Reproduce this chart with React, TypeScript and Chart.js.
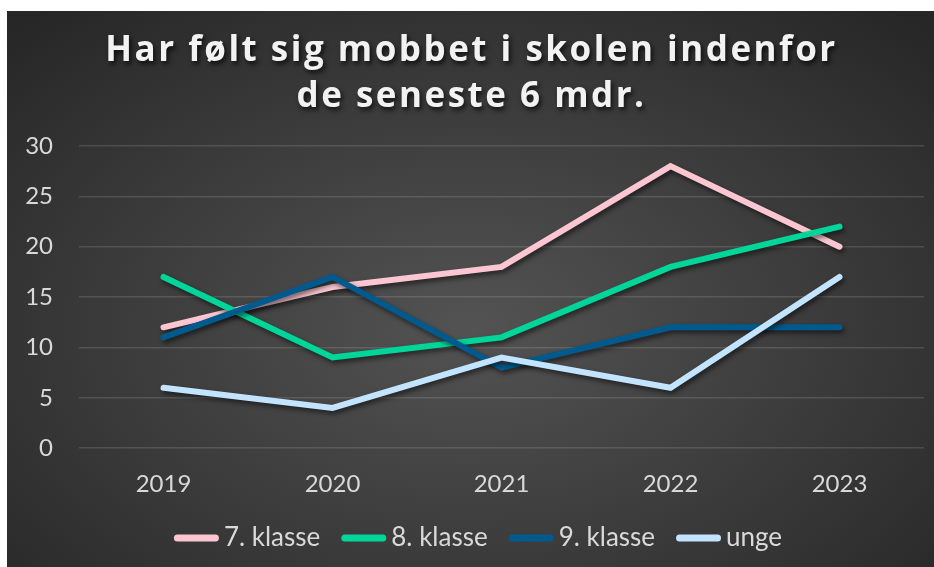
import { useEffect, useRef } from 'react';
import { Chart, registerables } from 'chart.js';

Chart.register(...registerables);

const years = ['2019', '2020', '2021', '2022', '2023'];
const klasse7 = [12, 16, 18, 28, 20];
const klasse8 = [17, 9, 11, 18, 22];
const klasse9 = [11, 17, 8, 12, 12];
const unge = [6, 4, 9, 6, 17];
const seriesNames = ['7. klasse', '8. klasse', '9. klasse', 'unge'];
const titleLines = ['Har følt sig mobbet i skolen indenfor', 'de seneste 6 mdr.'];

const colors = ['#FBC6D2', '#00D699', '#005A8E', '#C2E4FF'];
const FONT = 'Lato, "Open Sans", sans-serif';

const titlePlugin = {
  id: 'customTitle',
  afterDraw(chart: any) {
    const ctx = chart.ctx;
    ctx.save();
    ctx.font = `bold 35px "Open Sans", sans-serif`;
    try { (ctx as any).letterSpacing = '2.5px'; } catch (e) {}
    ctx.fillStyle = '#F2F2F2';
    ctx.textAlign = 'center';
    ctx.textBaseline = 'middle';
    ctx.shadowColor = 'rgba(0,0,0,0.75)';
    ctx.shadowOffsetX = 2;
    ctx.shadowOffsetY = 3;
    ctx.shadowBlur = 5;
    const cx = chart.width / 2 + 1;
    ctx.fillText(titleLines[0], cx, 40);
    ctx.fillText(titleLines[1], cx, 86);
    ctx.restore();
  },
};

const legendPlugin = {
  id: 'customLegend',
  afterDraw(chart: any) {
    const ctx = chart.ctx;
    const datasets = chart.data.datasets;
    ctx.save();
    ctx.font = `26px ${FONT}`;
    const boxW = 45;
    const gapText = 5;
    const gapItem = 21;
    const widths = datasets.map((ds: any) => boxW + gapText + ctx.measureText(ds.label).width);
    const total = widths.reduce((a: number, b: number) => a + b, 0) + gapItem * (datasets.length - 1);
    let x = 471 - total / 2;
    const y = 527;
    datasets.forEach((ds: any, i: number) => {
      ctx.strokeStyle = ds.borderColor;
      ctx.lineWidth = 7;
      ctx.lineCap = 'round';
      ctx.beginPath();
      ctx.moveTo(x + 3.5, y);
      ctx.lineTo(x + boxW - 3.5, y);
      ctx.stroke();
      ctx.fillStyle = '#D9D9D9';
      ctx.textAlign = 'left';
      ctx.textBaseline = 'middle';
      ctx.fillText(ds.label, x + boxW + gapText, y);
      x += widths[i] + gapItem;
    });
    ctx.restore();
  },
};

const shadowPlugin = {
  id: 'lineShadow',
  beforeDatasetDraw(chart: any) {
    const ctx = chart.ctx;
    ctx.save();
    ctx.shadowColor = 'rgba(0,0,0,0.55)';
    ctx.shadowOffsetX = 2;
    ctx.shadowOffsetY = 3;
    ctx.shadowBlur = 5;
  },
  afterDatasetDraw(chart: any) {
    chart.ctx.restore();
  },
};

export default function App() {
  const ref = useRef<HTMLCanvasElement | null>(null);

  useEffect(() => {
    if (!ref.current) return;
    const data = [klasse7, klasse8, klasse9, unge];
    const chart = new Chart(ref.current, {
      type: 'line',
      data: {
        labels: years,
        datasets: data.map((d, i) => ({
          label: seriesNames[i],
          data: d,
          borderColor: colors[i],
          backgroundColor: colors[i],
          borderWidth: 6,
          borderCapStyle: 'round',
          borderJoinStyle: 'miter',
          pointRadius: 0,
          pointHoverRadius: 0,
          tension: 0,
          fill: false,
          order: 4 - i,
        })),
      },
      options: {
        animation: false,
        responsive: true,
        maintainAspectRatio: false,
        layout: { padding: { top: 135, right: 10, left: 0, bottom: 54 } },
        plugins: {
          title: { display: false },
          tooltip: { enabled: false },
          legend: { display: false },
        },
        scales: {
          x: {
            offset: true,
            grid: { display: false, offset: true },
            border: { display: false },
            ticks: {
              color: '#D9D9D9',
              font: { family: FONT, size: 24 },
              padding: 14,
            },
          },
          y: {
            min: 0,
            max: 30,
            grid: { color: 'rgba(255,255,255,0.13)', lineWidth: 1.5, drawTicks: false },
            border: { display: false },
            ticks: {
              stepSize: 5,
              color: '#D9D9D9',
              font: { family: FONT, size: 24 },
              padding: 26,
            },
            afterFit(scale: any) {
              scale.width = 72;
            },
          },
        },
      },
      plugins: [titlePlugin, shadowPlugin, legendPlugin],
    } as any);
    return () => chart.destroy();
  }, []);

  return (
    <div
      style={{
        position: 'fixed',
        left: 7,
        top: 11,
        width: 927,
        height: 556,
        background: 'radial-gradient(ellipse 70% 75% at 50% 57%, #535353 0%, #3b3b3b 55%, #272727 100%)',
      }}
    >
      <canvas ref={ref} />
    </div>
  );
}
